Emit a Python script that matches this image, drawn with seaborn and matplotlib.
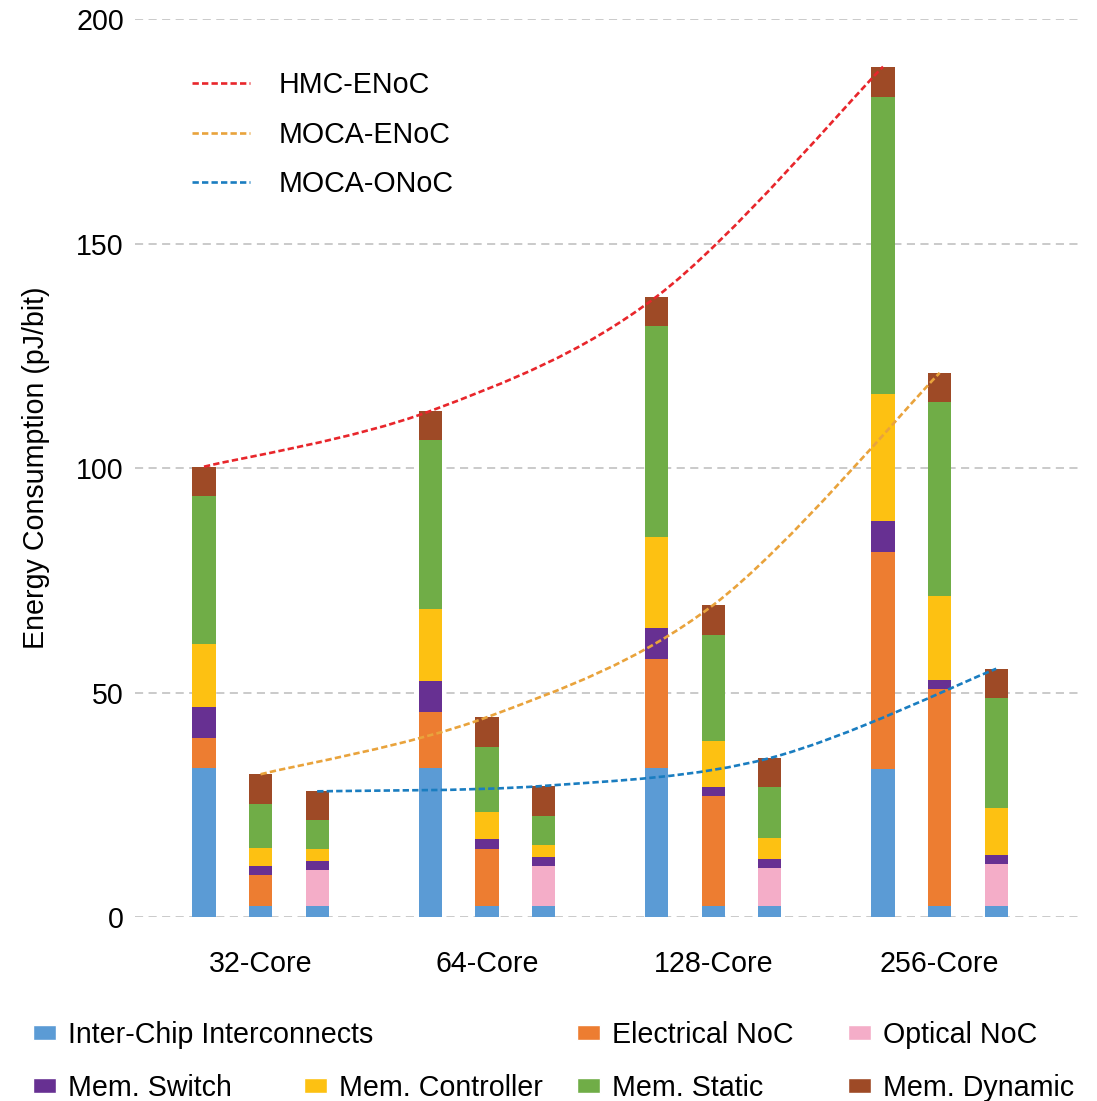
import numpy as np
import pandas as pd
import seaborn as sns
import matplotlib.pyplot as plt
from matplotlib.path import Path
from matplotlib.patches import PathPatch, Patch
from matplotlib.lines import Line2D

cores = ["32-Core", "64-Core", "128-Core", "256-Core"]
designs = ["HMC-ENoC", "MOCA-ENoC", "MOCA-ONoC"]

# order: 32-Core (HMC-ENoC, MOCA-ENoC, MOCA-ONoC), 64-Core (...), 128-Core (...), 256-Core (...)
inter_chip = [33.1, 2.5, 2.5, 33.1, 2.5, 2.5, 33.1, 2.5, 2.5, 33.0, 2.5, 2.5]
electrical_noc = [6.8, 6.9, 0, 12.6, 12.7, 0, 24.3, 24.5, 0, 48.2, 48.2, 0]
optical_noc = [0, 0, 8.0, 0, 0, 8.9, 0, 0, 8.4, 0, 0, 9.3]
mem_switch = [6.8, 2.0, 2.0, 6.9, 2.1, 2.0, 6.9, 2.0, 2.1, 6.9, 2.0, 2.0]
mem_controller = [14.1, 4.0, 2.6, 16.0, 6.2, 2.7, 20.4, 10.2, 4.7, 28.5, 18.7, 10.5]
mem_static = [33.0, 9.8, 6.4, 37.6, 14.4, 6.5, 46.9, 23.7, 11.2, 66.1, 43.3, 24.4]
mem_dynamic = [6.5, 6.6, 6.5, 6.5, 6.6, 6.6, 6.6, 6.6, 6.5, 6.7, 6.5, 6.6]

components = ["Inter-Chip Interconnects", "Electrical NoC", "Optical NoC", "Mem. Switch",
              "Mem. Controller", "Mem. Static", "Mem. Dynamic"]
comp_colors = ["#5B9BD5", "#ED7D31", "#F4ADC8", "#673092", "#FDC112", "#70AD47", "#9E4A26"]
line_colors = ["#E8262B", "#E9A33C", "#1A7DC0"]

df = pd.DataFrame({
    "core": np.repeat(cores, 3),
    "design": designs * 4,
    "Inter-Chip Interconnects": inter_chip,
    "Electrical NoC": electrical_noc,
    "Optical NoC": optical_noc,
    "Mem. Switch": mem_switch,
    "Mem. Controller": mem_controller,
    "Mem. Static": mem_static,
    "Mem. Dynamic": mem_dynamic,
})
cum = df[components].cumsum(axis=1)
for c in components:
    df["cum_" + c] = cum[c]
df["total"] = cum[components[-1]]

sns.set_style("white")
plt.rcParams["font.family"] = ["Liberation Sans", "DejaVu Sans"]
plt.rcParams["text.color"] = "black"
fs = 20.6

fig = plt.figure(figsize=(10.97, 11.01), dpi=100)
ax = fig.add_axes([0.123, 0.1671, 0.8615, 0.8156])

# stacked bars: draw cumulative totals top-down so each layer covers the one above
for comp, col in zip(components[::-1], comp_colors[::-1]):
    sns.barplot(data=df, x="core", y="cum_" + comp, hue="design", order=cores,
                hue_order=designs, palette=[col] * 3, width=0.75, gap=0.59,
                saturation=1, errorbar=None, legend=False, ax=ax, zorder=2,
                linewidth=0)


def smooth_path(xs, ys):
    # bezier through the points, like a smoothed spreadsheet line
    pts = np.column_stack([xs, ys])
    verts = [pts[0]]
    codes = [Path.MOVETO]
    n = len(pts)
    for i in range(n - 1):
        p0 = pts[i - 1] if i > 0 else pts[i]
        p1, p2 = pts[i], pts[i + 1]
        p3 = pts[i + 2] if i + 2 < n else pts[i + 1]
        verts += [p1 + (p2 - p0) / 6, p2 - (p3 - p1) / 6, p2]
        codes += [Path.CURVE4] * 3
    return Path(verts, codes)


offsets = [-0.25, 0, 0.25]
line_style = (0, (2.4, 1.2))
for d, off, lc in zip(designs, offsets, line_colors):
    sub = df[df["design"] == d]
    xs = np.arange(len(cores)) + off
    ax.add_patch(PathPatch(smooth_path(xs, sub["total"].to_numpy()), fill=False,
                           edgecolor=lc, linewidth=1.9, linestyle=line_style, zorder=3))

ax.set_xlim(-0.555, 3.62)
ax.set_ylim(0, 200)
ax.set_yticks([0, 50, 100, 150, 200])
ax.yaxis.grid(True, color="#C6C6C6", linestyle=(0, (4.5, 3)), linewidth=1.3)
ax.set_axisbelow(True)
sns.despine(ax=ax, left=True, bottom=True)
ax.tick_params(axis="y", length=0, pad=8, labelsize=fs, labelcolor="black")
ax.tick_params(axis="x", length=0, pad=24, labelsize=fs, labelcolor="black")
ax.set_xlabel("")
ax.set_ylabel("Energy Consumption (pJ/bit)", fontsize=fs, labelpad=19, color="black")

line_handles = [Line2D([0], [0], color=lc, linewidth=1.9, linestyle=line_style)
                for lc in line_colors]
ax.legend(line_handles, designs, loc="upper left", bbox_to_anchor=(0.06, 0.942),
          frameon=False, fontsize=fs, handlelength=2.05, handletextpad=0.98,
          labelspacing=0.75, borderpad=0, borderaxespad=0, labelcolor="black")

# bottom legend, laid out like the original grid
legend_pos = [(33, 1035), (577, 1035), (848, 1035),
              (33, 1088), (304, 1088), (577, 1088), (848, 1088)]
for comp, col, (px, py) in zip(components, comp_colors, legend_pos):
    fig.legend([Patch(facecolor=col)], [comp], loc="center left",
               bbox_to_anchor=(px / 1097, 1 - py / 1101), frameon=False, fontsize=fs,
               handlelength=0.8, handleheight=0.45, handletextpad=0.44,
               borderpad=0, borderaxespad=0, labelcolor="black")

fig.savefig("out.png", dpi=100)
